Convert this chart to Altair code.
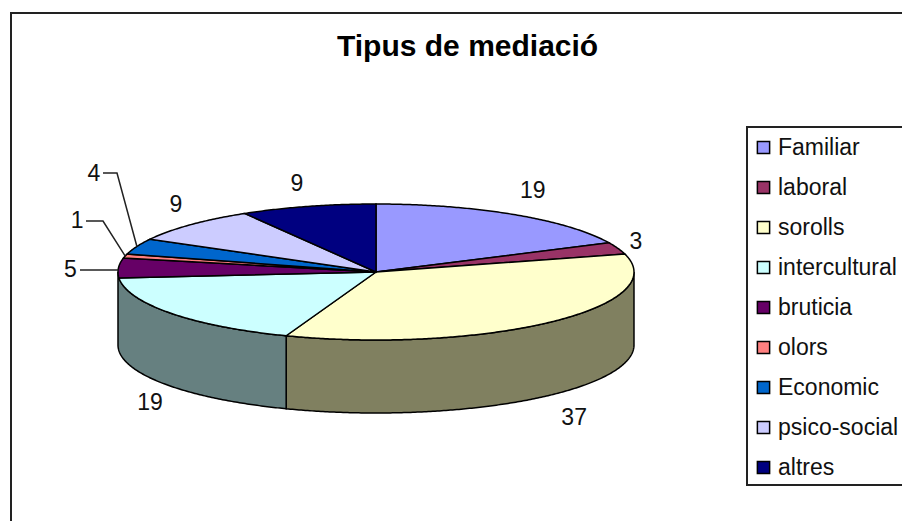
import math
import altair as alt

NAMES = ["Familiar", "laboral", "sorolls", "intercultural", "bruticia", "olors",
         "Economic", "psico-social", "altres"]
VALUES = [19, 3, 37, 19, 5, 1, 4, 9, 9]
COLORS = ["#9999FF", "#993366", "#FFFFCC", "#CCFFFF", "#660066", "#FF8080",
          "#0066CC", "#CCCCFF", "#000080"]
# label shift from the slice's rim point at mid-angle (pixels)
LABEL_SHIFT = [(19, -23), (18, -6), (24, 96), (-21, 90), (-48, 2), (-48, -35),
               (-43, -72), (-15, -20), (-11, -22)]

CX, CY, RX, RY, DEPTH = 376, 272, 258, 68, 73
FONT = "Liberation Sans"
total = sum(VALUES)


def rim(t, drop=0):
    a = math.radians(t)
    return [CX + RX * math.sin(a), CY - RY * math.cos(a) + drop]


def arc(t0, t1, drop=0):
    n = max(2, int(abs(t1 - t0)) * 2)
    return [rim(t0 + (t1 - t0) * i / n, drop) for i in range(n + 1)]


def feature(kind, coords, **props):
    return {"type": "Feature", "properties": props,
            "geometry": {"type": kind, "coordinates": coords}}


bounds = [0]
for v in VALUES:
    bounds.append(bounds[-1] + v * 360 / total)

slices, labels = [], []
for i, name in enumerate(NAMES):
    ring = [[CX, CY]] + arc(bounds[i], bounds[i + 1]) + [[CX, CY]]
    slices.append(feature("Polygon", [ring], name=name))
    mx, my = rim((bounds[i] + bounds[i + 1]) / 2)
    labels.append({"lon": mx + LABEL_SHIFT[i][0], "lat": my + LABEL_SHIFT[i][1],
                   "text": str(VALUES[i])})


def wall(t0, t1):
    ring = arc(t0, t1) + arc(t1, t0, DEPTH)
    return feature("Polygon", [ring + [ring[0]]])


proj = dict(type="identity", scale=1, translate=[-8, -8])


def shape(features, **mark):
    return alt.Chart(alt.Data(values=features)).mark_geoshape(**mark).project(**proj)


wall_a = shape([wall(90, bounds[3])], fill="#808060", stroke="black", strokeWidth=1.5)
wall_b = shape([wall(bounds[3], 270)], fill="#668080", stroke="black", strokeWidth=1.5)

top = shape(slices, stroke="black", strokeWidth=1.5).encode(
    color=alt.Color(
        "properties.name:N",
        sort=NAMES,
        scale=alt.Scale(domain=NAMES, range=COLORS),
        legend=alt.Legend(
            title=None, orient="none", legendX=738, legendY=122,
            symbolType="square", symbolSize=150, symbolStrokeColor="black",
            symbolStrokeWidth=1.5, symbolOpacity=1,
            labelFont=FONT, labelFontSize=23, labelColor="#111111", labelLimit=300,
            labelOffset=3, rowPadding=16, padding=6, columns=1,
        ),
    )
)

# Leaders of the three smallest slices, the legend's box and the outer frame
r5 = rim((bounds[4] + bounds[5]) / 2)
r1 = rim((bounds[5] + bounds[6]) / 2)
r4 = rim((bounds[6] + bounds[7]) / 2)
leaders = shape(
    [
        feature("LineString", [[80, 270], [r5[0], 270]]),
        feature("LineString", [[86, 221], [103, 221], r1]),
        feature("LineString", [[103, 173], [117, 173], r4]),
    ],
    filled=False, stroke="#222222", strokeWidth=1.5,
)
legend_box = shape(
    [feature("Polygon", [[[747, 127], [930, 127], [930, 485], [747, 485], [747, 127]]])],
    fill="white", stroke="#222222", strokeWidth=2,
)
frame = shape(
    [feature("LineString", [[11, 530], [11, 13], [915, 13]])],
    filled=False, stroke="#222222", strokeWidth=2,
)

text = alt.Chart(alt.Data(values=labels)).mark_text(
    font=FONT, fontSize=23, color="#111111", align="center", baseline="middle"
).encode(longitude="lon:Q", latitude="lat:Q", text="text:N").project(**proj)

chart = (
    alt.layer(frame, legend_box, wall_a, wall_b, top, leaders, text)
    .properties(
        width=894, height=513, padding=0,
        autosize=alt.AutoSizeParams(type="none"),
        title=alt.TitleParams(
            "Tipus de mediació", font=FONT, fontSize=30, fontWeight="bold",
            color="black", anchor="start", dx=329, offset=-78, baseline="alphabetic",
        ),
    )
    .configure_view(stroke=None)
    .configure(background="white")
)

chart.save("out.html", embed_options={"renderer": "svg", "actions": False})
